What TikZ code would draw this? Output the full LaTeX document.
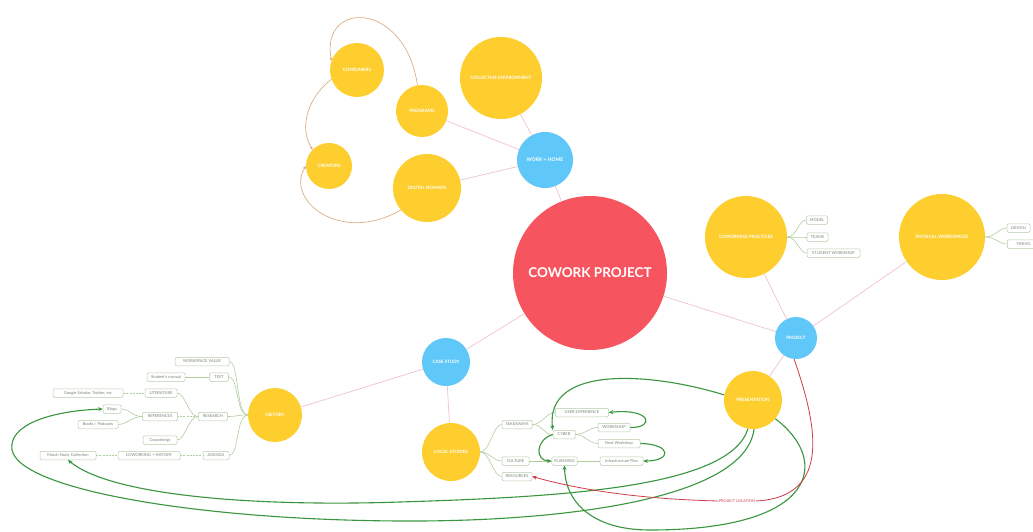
\documentclass[tikz,border=0pt]{standalone}
\usepackage{fontspec}
\setmainfont{Lato}
\usetikzlibrary{arrows.meta}
\definecolor{cred}{RGB}{246,84,94}
\definecolor{cblue}{RGB}{95,200,248}
\definecolor{cyel}{RGB}{253,206,46}
\definecolor{cpink}{RGB}{240,196,206}
\definecolor{cbox}{RGB}{182,204,172}
\definecolor{ctree}{RGB}{176,206,160}
\definecolor{cgreen}{RGB}{58,150,62}
\definecolor{corange}{RGB}{214,164,120}
\definecolor{ctext}{RGB}{120,132,118}
\definecolor{cdred}{RGB}{205,60,72}
\newcommand\fsz[1]{\fontsize{#1}{#1}\selectfont}
\tikzset{
  bub/.style={circle, draw=none, inner sep=0pt, text=white, font=\fsz{4.5}\bfseries, align=center},
  ybub/.style={bub, fill=cyel},
  bbub/.style={bub, fill=cblue},
  bx/.style={draw=cbox, rounded corners=1.3pt, line width=0.5pt, fill=white, inner xsep=2.5pt, inner ysep=0pt, minimum height=8.5pt, font=\fsz{4}, text=ctext},
  link/.style={draw=cpink, line width=0.7pt},
  tree/.style={draw=ctree, line width=0.6pt},
  dtree/.style={draw=ctree, line width=0.6pt, dash pattern=on 2pt off 1.2pt},
  garr/.style={draw=cgreen, line width=1.1pt, -{Stealth[length=4.5pt,width=4pt]}},
  oarr/.style={draw=corange, line width=0.6pt, -{Stealth[length=3.2pt,width=2.8pt]}},
  rarr/.style={draw=cdred, line width=0.8pt, -{Stealth[length=4.5pt,width=4pt]}},
}
\begin{document}
\begin{tikzpicture}[x=1pt,y=-1pt]
\path[use as bounding box, fill=white] (0,0) rectangle (1033,532);

% circles
\node[bub, fill=cred, minimum size=154pt, font=\fsz{13.5}\bfseries] (cw) at (590,273) {COWORK PROJECT};
\node[bbub, minimum size=56pt, font=\fsz{5}\bfseries] (wh) at (545,160) {WORK + HOME};
\node[ybub, minimum size=82pt] (ce) at (501,78) {COLLECTIVE ENVIRONMENT};
\node[ybub, minimum size=52pt] (pg) at (422,111) {PROGRAMS};
\node[ybub, minimum size=54pt] (cn) at (357,70) {CONSUMERS};
\node[ybub, minimum size=46pt] (cr) at (329,166) {CREATORS};
\node[ybub, minimum size=68pt] (dn) at (427,188) {DIGITAL NOMADS};
\node[ybub, minimum size=82pt] (rp1) at (746,237) {COWORKING PRACTICES};
\node[ybub, minimum size=86pt] (rp2) at (942,237) {PHYSICAL WORKSPACES};
\node[bbub, minimum size=42pt] (pj) at (796,338) {PROJECT};
\node[ybub, minimum size=58pt] (mk) at (753,400) {PRESENTATION};
\node[bbub, minimum size=48pt] (csd) at (446,362) {CASE STUDY};
\node[ybub, minimum size=58pt] (ls) at (451,452) {LOCAL STUDIES};
\node[ybub, minimum size=54pt] (hs) at (275,415) {HISTORY};

% left boxes
\node[bx, minimum width=54pt] (b1) at (202,361.5) {WORKSPACE VALUE};
\node[bx, minimum width=38pt] (b2) at (166,377) {Student's manual};
\node[bx, minimum width=19pt] (b3) at (219,377) {TEST};
\node[bx, minimum width=70pt] (b4) at (88,393) {Google Scholar, Twitter, etc};
\node[bx, minimum width=32pt] (b5) at (161,393) {LITERATURE};
\node[bx, minimum width=18pt] (b6) at (112,409) {Blogs};
\node[bx, minimum width=35pt] (b7) at (160,416.5) {REFERENCES};
\node[bx, minimum width=40pt] (b8) at (98,424.5) {Books / Podcasts};
\node[bx, minimum width=29pt] (b9) at (213,416.5) {RESEARCH};
\node[bx, minimum width=34pt] (b10) at (160,440) {Coworkings};
\node[bx, minimum width=56pt] (b11) at (68,455.5) {Match Study Collection};
\node[bx, minimum width=62pt] (b12) at (149,455.5) {COWORKING + HISTORY};
\node[bx, minimum width=26pt] (b13) at (216,455.5) {AGENDA};

% bottom boxes
\node[bx, minimum width=30pt] (c1) at (517,424.5) {TAKEAWAYS};
\node[bx, minimum width=53pt] (c2) at (582,412.5) {USER EXPERIENCE};
\node[bx, minimum width=22pt] (c3) at (564,434.5) {CYBER};
\node[bx, minimum width=32pt] (c4) at (614,427.5) {WORKSHOP};
\node[bx, minimum width=42pt] (c5) at (619,443.5) {Next Workshop};
\node[bx, minimum width=27pt] (c6) at (515.5,461) {CULTURE};
\node[bx, minimum width=25pt] (c7) at (564.5,461) {PLANNING};
\node[bx, minimum width=43pt] (c8) at (621.5,461) {Infrastructure Plan};
\node[bx, minimum width=30pt] (c9) at (517,476.5) {RESOURCES};

% right boxes
\node[bx, minimum width=21pt] (d1) at (817,220) {MODEL};
\node[bx, minimum width=21pt] (d2) at (817.5,237) {TEAMS};
\node[bx, minimum width=53pt] (d3) at (833.5,253) {STUDENT WORKSHOP};
\node[bx, minimum width=23pt] (e1) at (1018.5,228) {DESIGN};
\node[bx, minimum width=34pt, anchor=west, align=left, text width=16pt] (e2) at (1007,244) {TIMING};

% pink links
\draw[link] (cw) -- (wh);
\draw[link] (wh) -- (ce);
\draw[link] (wh) -- (pg);
\draw[link] (wh) -- (dn);
\draw[link] (cw) -- (pj);
\draw[link] (cw) -- (csd);
\draw[link] (pj) -- (rp1);
\draw[link] (pj) -- (rp2);
\draw[link] (pj) -- (mk);
\draw[link] (csd) -- (hs);
\draw[link] (csd) -- (ls);

% left tree
\foreach \b in {b1,b3,b9,b13}
  \draw[tree] (hs.west) .. controls +(-12,0) and +(10,0) .. (\b.east);
\draw[tree] (b2.east) -- (b3.west);
\draw[dtree] (b4.east) -- (b5.west);
\draw[tree] (b9.west) .. controls +(-10,0) and +(8,0) .. (b5.east);
\draw[dtree] (b9.west) -- (b7.east);
\draw[tree] (b9.west) .. controls +(-10,0) and +(8,0) .. (b10.east);
\draw[tree] (b7.west) .. controls +(-10,0) and +(8,0) .. (b6.east);
\draw[tree] (b7.west) .. controls +(-10,0) and +(8,0) .. (b8.east);
\draw[dtree] (b11.east) -- (b12.west);
\draw[dtree] (b12.east) -- (b13.west);

% bottom tree
\foreach \b in {c1,c6,c9}
  \draw[tree] (ls.east) .. controls +(10,0) and +(-9,0) .. (\b.west);
\draw[tree] (c1.east) .. controls +(10,0) and +(-9,0) .. (c2.west);
\draw[tree] (c1.east) .. controls +(10,0) and +(-9,0) .. (c3.west);
\draw[tree] (c3.east) .. controls +(10,0) and +(-9,0) .. (c4.west);
\draw[tree] (c3.east) .. controls +(10,0) and +(-9,0) .. (c5.west);
\draw[tree] (c6.east) -- (c7.west);
\draw[tree] (c7.east) -- (c8.west);

% right trees
\foreach \b in {d1,d2,d3}
  \draw[tree] (rp1.east) .. controls +(10,0) and +(-8,0) .. (\b.west);
\foreach \b in {e1,e2}
  \draw[tree] (rp2.east) .. controls +(10,0) and +(-8,0) .. (\b.west);

% orange arrows
\draw[oarr] (pg.100) .. controls (405,0) and (320,0) .. (cn.160);
\draw[oarr] (cn.200) .. controls (305,100) and (300,130) .. (cr.135);
\draw[oarr] (dn.220) .. controls (340,245) and (285,200) .. (cr.west);

% green arrows
\draw[garr] (mk.170) .. controls (650,372) and (545,365) .. (c3.north west);
\draw[garr] (c3.west) .. controls (535,440) and (535,461) .. (c7.west);
\draw[garr] (c4.east) .. controls (655,428) and (652,408) .. (c2.east);
\draw[garr] (c5.east) .. controls (672,444) and (672,461) .. (c8.east);
\draw[garr] (mk.-40) .. controls (830,460) and (820,530) .. (650,530)
   .. controls (590,530) and (565,500) .. (c7.south);
\draw[garr] (mk.-100) .. controls (730,488) and (560,497) .. (400,502)
   .. controls (250,507) and (110,495) .. (b11.south);
\draw[garr] (mk.-88) .. controls (745,500) and (560,522) .. (400,521)
   .. controls (200,520) and (20,490) .. (12,450)
   .. controls (8,425) and (50,411) .. (b6.west);

% red arrow
\node[text=cdred, font=\fsz{3.8}, inner sep=0.6pt] (lbl) at (737,501) {PROJECT LOCATION};
\draw[draw=cdred, line width=0.8pt] (pj.-95) .. controls (815,420) and (835,497) .. (lbl.east);
\draw[rarr] (lbl.west) .. controls (640,499) and (580,490) .. (c9.east);
\end{tikzpicture}
\end{document}
